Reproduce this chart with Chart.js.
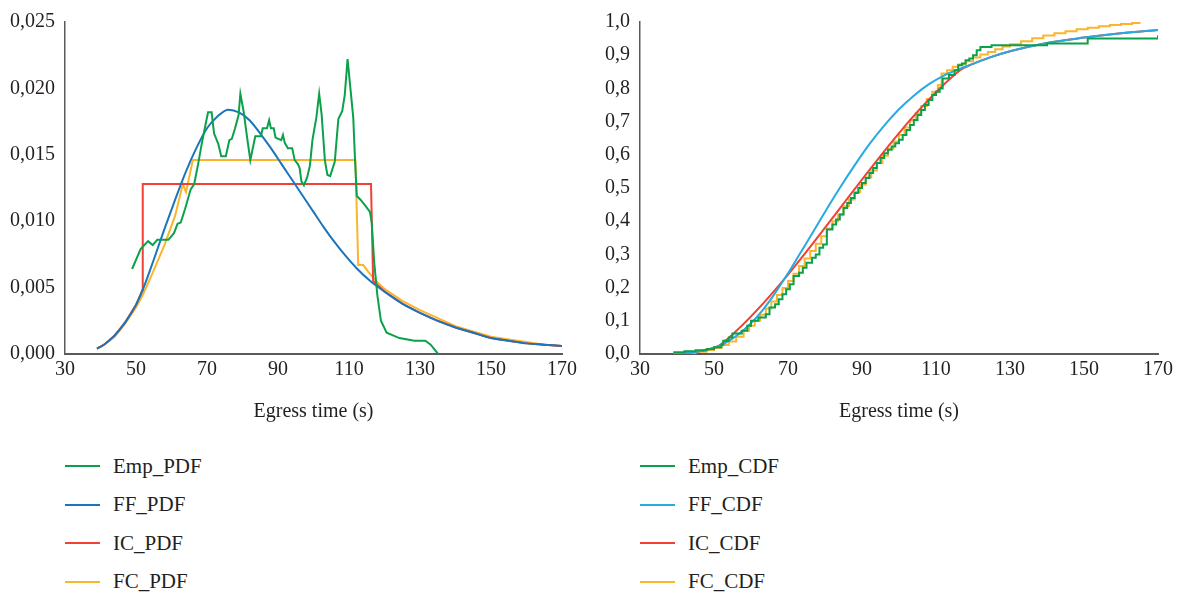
<!DOCTYPE html>
<html>
<head>
<meta charset="utf-8">
<script src="https://cdn.jsdelivr.net/npm/chart.js@4"></script>
<style>
  body { margin: 0; background: #fff; width: 1179px; height: 593px; position: relative; overflow: hidden; font-family: "Liberation Serif", serif; color: #231f20; }
  .box { position: absolute; top: 0; height: 440px; }
  #leftBox { left: 0; width: 590px; }
  #rightBox { left: 575px; width: 604px; }
  .legend { position: absolute; top: 447px; }
  #leftLegend { left: 65px; }
  #rightLegend { left: 640px; }
  .item { height: 38.5px; display: flex; align-items: center; font-size: 21px; }
  .swatch { display: inline-block; width: 35px; height: 2px; margin-right: 13px; }
</style>
</head>
<body>
<div class="box" id="leftBox"><canvas id="pdfChart" width="590" height="440"></canvas></div>
<div class="box" id="rightBox"><canvas id="cdfChart" width="604" height="440"></canvas></div>
<div class="legend" id="leftLegend"></div>
<div class="legend" id="rightLegend"></div>
<script>
// x ticks and y ticks
const xTicks = [30, 50, 70, 90, 110, 130, 150, 170];
const pdfTicks = [0, 0.005, 0.010, 0.015, 0.020, 0.025];
const cdfTicks = [0, 0.1, 0.2, 0.3, 0.4, 0.5, 0.6, 0.7, 0.8, 0.9, 1.0];

// PDF series [egress time, density]
const empPdf = [[48.9,0.0064],[51.3,0.0079],[53.4,0.0085],[54.7,0.0082],[56,0.0086],[59.1,0.0086],[60.7,0.0091],[61.7,0.0098],[62.6,0.0099],[63.8,0.0109],[65.4,0.0124],[66.4,0.0128],[67.5,0.0143],[68.5,0.0158],[69.6,0.0173],[70.3,0.0182],[71.3,0.0182],[72,0.0166],[73.2,0.0158],[74,0.0149],[75.3,0.0149],[76.3,0.0161],[77,0.0162],[77.9,0.0170],[78.9,0.0180],[79.4,0.0196],[80.3,0.0183],[81.3,0.0163],[82.2,0.0146],[83.6,0.0164],[85.2,0.0164],[85.7,0.0170],[86.9,0.0170],[87.5,0.0176],[88,0.0170],[88.8,0.0170],[89.3,0.0163],[90.9,0.0161],[91.4,0.0165],[91.9,0.0159],[92.8,0.0155],[94,0.0155],[94.7,0.0146],[95.6,0.0143],[96.1,0.0140],[96.6,0.0130],[97.3,0.0127],[98.2,0.0133],[99,0.0142],[99.7,0.0161],[100.8,0.0178],[101.6,0.0196],[102.3,0.0180],[103.2,0.0146],[103.9,0.0135],[104.7,0.0134],[106,0.0145],[107,0.0177],[108.1,0.0183],[108.8,0.0195],[109.6,0.0222],[110.4,0.0200],[111.2,0.0178],[111.7,0.0146],[112.2,0.0119],[113.3,0.0116],[114.8,0.0111],[115.9,0.0107],[116.4,0.0099],[117.1,0.0069],[118,0.0044],[119,0.0025],[120.6,0.0016],[124.2,0.0012],[128.4,0.0010],[131.5,0.0010],[133,0.0007],[135.1,0.0]];
const ffPdf = [[39,0.0004],[41,0.0007],[44,0.0014],[47,0.0024],[50,0.0037],[52,0.0049],[55,0.0071],[58,0.0094],[61,0.0116],[64,0.0137],[67,0.0155],[70,0.0170],[73,0.0179],[76,0.0184],[79,0.0182],[82,0.0176],[85,0.0166],[88,0.0155],[91,0.0143],[94,0.0131],[97,0.0119],[100,0.0107],[103,0.0095],[106,0.0084],[109,0.0074],[112,0.0065],[116,0.0055],[120,0.0047],[125,0.0038],[130,0.0031],[135,0.0025],[140,0.0020],[145,0.0016],[150,0.0012],[155,0.0010],[160,0.0008],[165,0.0007],[170,0.0006]];
const icPdf = [[39,0.0004],[41,0.0007],[44,0.0014],[47,0.0024],[50,0.0037],[51.8,0.0048],[51.9,0.0128],[116.2,0.0128],[116.8,0.0055],[120,0.0047],[125,0.0038],[130,0.0031],[135,0.0025],[140,0.0020],[145,0.0016],[150,0.0012],[155,0.0010],[160,0.0008],[165,0.0007],[170,0.0006]];
const fcPdf = [[39,0.0004],[41,0.0007],[44,0.0013],[47,0.0023],[50,0.0035],[52,0.0045],[55,0.0063],[58,0.0082],[61,0.0104],[63.2,0.0128],[64.1,0.0122],[66,0.0146],[111.8,0.0146],[112.6,0.0067],[114,0.0067],[116,0.0060],[118,0.0054],[120,0.0049],[125,0.0040],[130,0.0033],[135,0.0027],[140,0.0021],[145,0.0017],[150,0.0013],[155,0.0011],[160,0.0009],[165,0.0007],[170,0.0006]];

// CDF series [egress time, cumulative]
const empCdf = [[39,0.005],[42,0.008],[45,0.011],[48,0.015],[50,0.02],[52,0.028],[52.5,0.04],[54,0.05],[55,0.062],[57.5,0.07],[59,0.085],[60,0.1],[62,0.11],[64,0.12],[65,0.14],[66.5,0.15],[67.5,0.165],[68.5,0.18],[69.5,0.195],[70.5,0.21],[71.5,0.235],[73,0.245],[74,0.26],[75,0.275],[76.5,0.29],[77.5,0.30],[78.5,0.32],[79.5,0.33],[80.5,0.375],[82,0.39],[83,0.405],[84,0.42],[85,0.44],[86,0.455],[87,0.47],[88,0.485],[89,0.50],[90,0.515],[91,0.53],[92,0.545],[93,0.56],[94,0.575],[95,0.59],[96,0.605],[97,0.615],[98,0.625],[99,0.635],[100,0.645],[101,0.66],[102,0.675],[103,0.69],[104,0.705],[105,0.72],[106,0.735],[107,0.75],[108,0.765],[109,0.78],[110,0.79],[111,0.80],[111.8,0.83],[113.5,0.84],[115,0.855],[116,0.87],[117,0.875],[118,0.885],[119,0.89],[120,0.9],[121,0.915],[122,0.925],[125,0.93],[140,0.935],[151,0.95],[170,0.96]];
const ffCdf = [[39,0],[45,0.006],[50,0.019],[53,0.033],[56,0.054],[60,0.093],[63,0.13],[66,0.175],[70,0.243],[73,0.298],[76,0.353],[80,0.428],[84,0.50],[88,0.568],[92,0.632],[96,0.688],[100,0.737],[104,0.778],[108,0.812],[112,0.838],[116,0.857],[120,0.874],[125,0.895],[130,0.912],[140,0.937],[150,0.953],[160,0.966],[170,0.976]];
const icCdf = [[39,0],[45,0.006],[50,0.019],[52,0.03],[116.3,0.853],[120,0.874],[125,0.895],[130,0.912],[140,0.937],[150,0.953],[160,0.966],[170,0.976]];
const fcCdf = [[39,0],[42,0.003],[45,0.007],[48,0.012],[50,0.018],[52,0.027],[54,0.038],[56,0.052],[58,0.07],[59.5,0.085],[61,0.10],[62.5,0.118],[64,0.137],[65.5,0.158],[67,0.178],[68.5,0.199],[70,0.22],[71.5,0.242],[73,0.265],[74.5,0.288],[76,0.31],[77.5,0.332],[79,0.355],[80.5,0.378],[82,0.40],[83.5,0.42],[85,0.445],[86.5,0.465],[88,0.488],[89.5,0.51],[91,0.532],[92.5,0.553],[94,0.575],[95.5,0.597],[97,0.618],[98.5,0.64],[100,0.66],[101.5,0.682],[103,0.704],[104.5,0.725],[106,0.747],[107.5,0.768],[109,0.79],[110.5,0.81],[111.5,0.845],[113,0.855],[114.5,0.865],[116,0.872],[118,0.882],[120,0.893],[122,0.902],[124,0.910],[126,0.918],[128,0.926],[130,0.933],[133,0.942],[136,0.951],[139,0.959],[142,0.966],[145,0.972],[148,0.978],[151,0.983],[154,0.987],[157,0.991],[160,0.994],[163,0.997],[165,1.0]];

const GREEN = '#0ba14b', BLUE = '#1b75bc', LIGHTBLUE = '#27aae1', RED = '#ef4136', ORANGE = '#fbb42c';
const tickFont = { family: '"Liberation Serif", serif', size: 20 };

function pts(arr) { return arr.map(p => ({ x: p[0], y: p[1] })); }

function line(label, arr, color, extra) {
  return Object.assign({ label: label, data: pts(arr), borderColor: color, backgroundColor: color, borderWidth: 2, pointRadius: 0, fill: false }, extra || {});
}

function makeOptions(yMax, yStep, yDigits, padRight) {
  return {
    responsive: false,
    animation: false,
    layout: { padding: { top: 18, right: padRight, bottom: 16, left: 0 } },
    plugins: { legend: { display: false }, tooltip: { enabled: false } },
    scales: {
      x: {
        type: 'linear', min: 30, max: 170,
        afterBuildTicks: s => { s.ticks = xTicks.map(v => ({ value: v })); },
        grid: { display: false, drawTicks: false },
        border: { display: true, color: '#5a5a5a', width: 2 },
        ticks: { color: '#231f20', font: tickFont, padding: 4, maxRotation: 0 },
        title: { display: true, text: 'Egress time (s)', color: '#231f20', font: tickFont, padding: { top: 14, bottom: 0 } }
      },
      y: {
        min: 0, max: yMax,
        afterBuildTicks: s => { s.ticks = (yDigits === 3 ? pdfTicks : cdfTicks).map(v => ({ value: v })); },
        afterFit: s => { s.width = 65; },
        grid: { display: false, drawTicks: false },
        border: { display: true, color: '#5a5a5a', width: 1.5 },
        ticks: { color: '#231f20', font: tickFont, padding: 10, callback: v => v.toFixed(yDigits).replace('.', ',') }
      }
    }
  };
}

const pdfChart = new Chart(document.getElementById('pdfChart'), {
  type: 'line',
  data: {
    datasets: [
      line('Emp_PDF', empPdf, GREEN),
      line('FF_PDF', ffPdf, BLUE, { cubicInterpolationMode: 'monotone' }),
      line('IC_PDF', icPdf, RED),
      line('FC_PDF', fcPdf, ORANGE)
    ]
  },
  options: makeOptions(0.025, 0.005, 3, 28)
});

const cdfChart = new Chart(document.getElementById('cdfChart'), {
  type: 'line',
  data: {
    datasets: [
      line('Emp_CDF', empCdf, GREEN, { stepped: 'before' }),
      line('FF_CDF', ffCdf, LIGHTBLUE, { cubicInterpolationMode: 'monotone' }),
      line('IC_CDF', icCdf, RED, { cubicInterpolationMode: 'monotone' }),
      line('FC_CDF', fcCdf, ORANGE, { stepped: 'before' })
    ]
  },
  options: makeOptions(1.0, 0.1, 1, 21)
});

// legends below each chart, one entry per row
function buildLegend(chart, el) {
  chart.data.datasets.forEach(ds => {
    const row = document.createElement('div');
    row.className = 'item';
    row.innerHTML = '<span class="swatch" style="background:' + ds.borderColor + '"></span><span>' + ds.label + '</span>';
    el.appendChild(row);
  });
}
buildLegend(pdfChart, document.getElementById('leftLegend'));
buildLegend(cdfChart, document.getElementById('rightLegend'));
</script>
</body>
</html>
